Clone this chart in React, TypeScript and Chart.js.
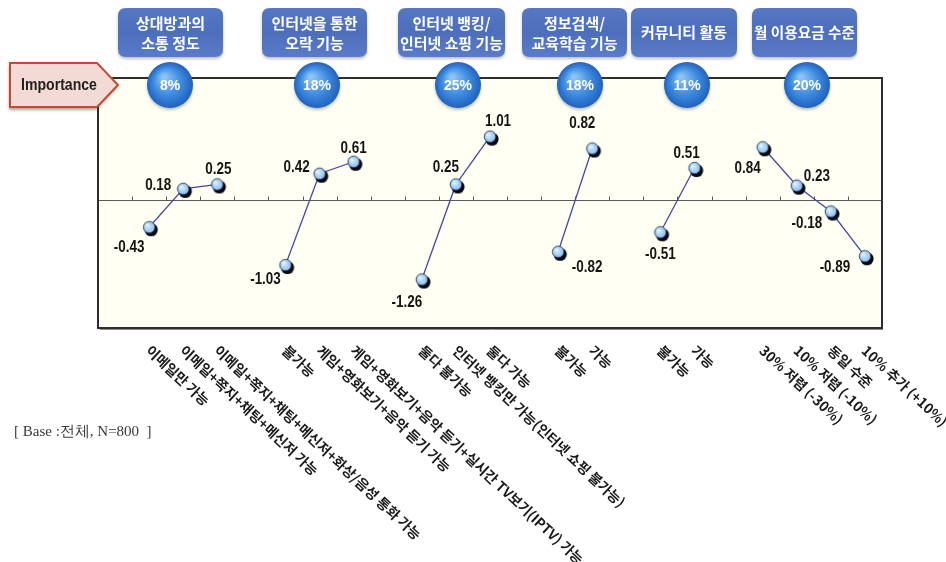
import React, { useEffect, useRef } from "react";
import { Chart, registerables } from "chart.js";

Chart.register(...registerables);

// ---------- DATA ----------
const categories: string[] = [
  " ",
  "이메일만 가능",
  "이메일+쪽지+채팅+메신저 가능",
  "이메일+쪽지+채팅+메신저+화상/음성 통화 가능",
  "  ",
  "불가능",
  "게임+영화보기+음악 듣기 가능",
  "게임+영화보기+음악 듣기+실시간 TV보기(IPTV) 가능",
  "   ",
  "둘다 불가능",
  "인터넷 뱅킹만 가능(인터넷 쇼핑 불가능)",
  "둘다 가능",
  "    ",
  "불가능",
  "가능",
  "     ",
  "불가능",
  "가능",
  "      ",
  "30% 저렴 (-30%)",
  "10% 저렴 (-10%)",
  "동일 수준",
  "10% 추가 (+10%)",
];

const partWorths: (number | null)[] = [
  null, -0.43, 0.18, 0.25,
  null, -1.03, 0.42, 0.61,
  null, -1.26, 0.25, 1.01,
  null, -0.82, 0.82,
  null, -0.51, 0.51,
  null, 0.84, 0.23, -0.18, -0.89,
];

const attributeNames: string[][] = [
  ["상대방과의", "소통 정도"],
  ["인터넷을 통한", "오락 기능"],
  ["인터넷 뱅킹/", "인터넷 쇼핑 기능"],
  ["정보검색/", "교육학습 기능"],
  ["커뮤니티 활동"],
  ["월 이용요금 수준"],
];

const importancePct: number[] = [8, 18, 25, 18, 11, 20];

const baseNote = "[ Base :전체, N=800  ]";

// ---------- STYLE / LAYOUT (not data) ----------
// value-label offsets relative to each point (dx, dy)
const labelOffsets: ([number, number] | null)[] = [
  null, [-20, 20], [-25, -3], [1, -15],
  null, [-20, 15], [-23, -6], [0, -13],
  null, [-15, 23], [-10, -17], [8, -15],
  null, [29, 16], [-10, -25],
  null, [0, 22], [-8, -14],
  null, [-15, 21], [20, -9], [-24, 12], [-30, 11],
];

// header boxes [left, right] and circle centre x
const headerBoxes: [number, number][] = [
  [118, 223], [262, 367], [398, 505], [522, 627], [631, 737], [752, 857],
];
const circleX: number[] = [170, 317, 458, 580, 687, 807];

function makeBall(): HTMLCanvasElement {
  const c = document.createElement("canvas");
  c.width = 24;
  c.height = 24;
  const g = c.getContext("2d")!;
  g.fillStyle = "#06060c";
  g.beginPath();
  g.arc(14, 14.5, 6.6, 0, Math.PI * 2);
  g.fill();
  const grad = g.createRadialGradient(10, 10, 0.5, 12, 12, 6);
  grad.addColorStop(0, "#e6f3ff");
  grad.addColorStop(0.55, "#a9d2f7");
  grad.addColorStop(1, "#86bbec");
  g.fillStyle = grad;
  g.beginPath();
  g.arc(12, 12, 5.8, 0, Math.PI * 2);
  g.fill();
  g.strokeStyle = "#24304f";
  g.lineWidth = 0.8;
  g.stroke();
  return c;
}

function roundRect(ctx: CanvasRenderingContext2D, x: number, y: number, w: number, h: number, r: number) {
  ctx.beginPath();
  ctx.moveTo(x + r, y);
  ctx.lineTo(x + w - r, y);
  ctx.quadraticCurveTo(x + w, y, x + w, y + r);
  ctx.lineTo(x + w, y + h - r);
  ctx.quadraticCurveTo(x + w, y + h, x + w - r, y + h);
  ctx.lineTo(x + r, y + h);
  ctx.quadraticCurveTo(x, y + h, x, y + h - r);
  ctx.lineTo(x, y + r);
  ctx.quadraticCurveTo(x, y, x + r, y);
  ctx.closePath();
}

const KFONT = '"Noto Sans CJK KR", "Noto Sans", sans-serif';

const decor = {
  id: "decor",
  beforeDatasetsDraw(chart: any) {
    const { ctx, chartArea: a, scales } = chart;
    const x = scales.x;
    const y = scales.y;
    ctx.save();
    ctx.fillStyle = "#fffff3";
    ctx.fillRect(a.left, a.top, a.right - a.left, a.bottom - a.top);
    const y0 = Math.round(y.getPixelForValue(0)) + 0.5;
    ctx.strokeStyle = "#5a5a5a";
    ctx.lineWidth = 1;
    ctx.beginPath();
    ctx.moveTo(a.left, y0);
    ctx.lineTo(a.right, y0);
    ctx.stroke();
    for (let i = 0; i < categories.length - 1; i++) {
      const tx = Math.round((x.getPixelForValue(i) + x.getPixelForValue(i + 1)) / 2) + 0.5;
      ctx.beginPath();
      ctx.moveTo(tx, y0);
      ctx.lineTo(tx, y0 - 4);
      ctx.stroke();
    }
    ctx.strokeStyle = "#2e2e2e";
    ctx.lineWidth = 2;
    ctx.strokeRect(a.left, a.top, a.right - a.left, a.bottom - a.top);
    ctx.strokeStyle = "#8a8a8a";
    ctx.lineWidth = 1;
    ctx.beginPath();
    ctx.moveTo(a.left + 2, a.bottom + 1.5);
    ctx.lineTo(a.right + 1, a.bottom + 1.5);
    ctx.stroke();
    ctx.restore();
  },
  afterDraw(chart: any) {
    const { ctx, chartArea: a, scales } = chart;
    const x = scales.x;
    const y = scales.y;
    ctx.save();

    // Importance arrow
    ctx.save();
    ctx.shadowColor = "rgba(0,0,0,0.35)";
    ctx.shadowOffsetX = -1;
    ctx.shadowOffsetY = 3;
    ctx.shadowBlur = 3;
    ctx.beginPath();
    ctx.moveTo(10, 63);
    ctx.lineTo(97, 63);
    ctx.lineTo(118, 85);
    ctx.lineTo(97, 107);
    ctx.lineTo(10, 107);
    ctx.closePath();
    ctx.fillStyle = "#f4dad5";
    ctx.fill();
    ctx.restore();
    ctx.strokeStyle = "#c44a30";
    ctx.lineWidth = 2;
    ctx.stroke();
    ctx.save();
    ctx.translate(59, 86);
    ctx.scale(0.88, 1);
    ctx.fillStyle = "#1e1e1e";
    ctx.font = 'bold 16px "Liberation Sans", Arial, sans-serif';
    ctx.textAlign = "center";
    ctx.textBaseline = "middle";
    ctx.fillText("Importance", 0, 0);
    ctx.restore();

    // header boxes
    headerBoxes.forEach(([l, r], i) => {
      const top = 8;
      const h = 49;
      const grad = ctx.createLinearGradient(0, top, 0, top + h);
      grad.addColorStop(0, "#5678c4");
      grad.addColorStop(0.5, "#4c6ebb");
      grad.addColorStop(1, "#5a7cc8");
      ctx.save();
      ctx.shadowColor = "rgba(0,0,0,0.25)";
      ctx.shadowOffsetY = 2;
      ctx.shadowBlur = 3;
      roundRect(ctx, l, top, r - l, h, 8);
      ctx.fillStyle = grad;
      ctx.fill();
      ctx.restore();
      ctx.fillStyle = "#ffffff";
      ctx.font = `bold 15px ${KFONT}`;
      ctx.textAlign = "center";
      ctx.textBaseline = "middle";
      const lines = attributeNames[i];
      const cx = (l + r) / 2;
      if (lines.length === 1) {
        ctx.fillText(lines[0], cx, top + h / 2, r - l - 4);
      } else {
        ctx.fillText(lines[0], cx, top + 15, r - l - 4);
        ctx.fillText(lines[1], cx, top + 35, r - l - 4);
      }
    });

    // importance circles
    importancePct.forEach((p, i) => {
      const cx = circleX[i];
      const cy = 85;
      const rad = 23;
      const g = ctx.createRadialGradient(cx - 6, cy - 8, 2, cx, cy, rad);
      g.addColorStop(0, "#8cc2f4");
      g.addColorStop(0.55, "#3f8ce0");
      g.addColorStop(1, "#1f62bd");
      ctx.save();
      ctx.shadowColor = "rgba(0,0,0,0.25)";
      ctx.shadowOffsetY = 2;
      ctx.shadowBlur = 3;
      ctx.beginPath();
      ctx.arc(cx, cy, rad, 0, Math.PI * 2);
      ctx.fillStyle = g;
      ctx.fill();
      ctx.restore();
      ctx.fillStyle = "#ffffff";
      ctx.font = 'bold 14px "Liberation Sans", Arial, sans-serif';
      ctx.textAlign = "center";
      ctx.textBaseline = "middle";
      ctx.fillText(`${p}%`, cx, cy + 1);
    });

    // value labels
    ctx.fillStyle = "#141414";
    ctx.font = 'bold 16px "Liberation Sans", Arial, sans-serif';
    ctx.textAlign = "center";
    ctx.textBaseline = "middle";
    partWorths.forEach((v, i) => {
      if (v === null) return;
      const off = labelOffsets[i] || [0, -14];
      const px = x.getPixelForValue(i) + off[0];
      const py = y.getPixelForValue(v) + off[1];
      ctx.save();
      ctx.translate(px, py);
      ctx.scale(0.84, 1);
      ctx.fillText(v.toFixed(2), 0, 0);
      ctx.restore();
    });

    // rotated category labels
    ctx.fillStyle = "#1a1a1a";
    ctx.font = `bold 14px ${KFONT}`;
    ctx.textAlign = "left";
    ctx.textBaseline = "top";
    const ang = (43 * Math.PI) / 180;
    categories.forEach((c, i) => {
      if (!c.trim()) return;
      const px = x.getPixelForValue(i);
      ctx.save();
      ctx.translate(px + 4, a.bottom + 15);
      ctx.rotate(ang);
      ctx.fillText(c, 0, 0);
      ctx.restore();
    });

    // base note
    ctx.fillStyle = "#3a3a3a";
    ctx.font = '15px "Liberation Serif", "DejaVu Serif", serif';
    ctx.textAlign = "left";
    ctx.textBaseline = "middle";
    ctx.fillText(baseNote, 14, 432);

    ctx.restore();
  },
};

export default function App() {
  const ref = useRef<HTMLCanvasElement>(null);
  useEffect(() => {
    const canvas = ref.current!;
    const ball = makeBall();
    const chart = new Chart(canvas, {
      type: "line",
      data: {
        labels: categories,
        datasets: [
          {
            data: partWorths as any,
            borderColor: "#4848a6",
            borderWidth: 1.3,
            pointStyle: ball as any,
            pointRadius: 7,
            pointHoverRadius: 7,
            spanGaps: false,
            tension: 0,
            fill: false,
          },
        ],
      },
      options: {
        animation: false,
        responsive: false,
        devicePixelRatio: 1,
        layout: { padding: { left: 98, right: 64, top: 78, bottom: 234 } },
        plugins: {
          legend: { display: false },
          tooltip: { enabled: false },
        },
        scales: {
          x: { type: "category", display: false, offset: true },
          y: { display: false, min: -2.03, max: 1.94 },
        },
      },
      plugins: [decor],
    });
    return () => chart.destroy();
  }, []);
  return (
    <div style={{ position: "absolute", left: 0, top: 0, width: 946, height: 562, background: "#ffffff" }}>
      <canvas ref={ref} width={946} height={562} style={{ width: 946, height: 562, display: "block" }} />
    </div>
  );
}
